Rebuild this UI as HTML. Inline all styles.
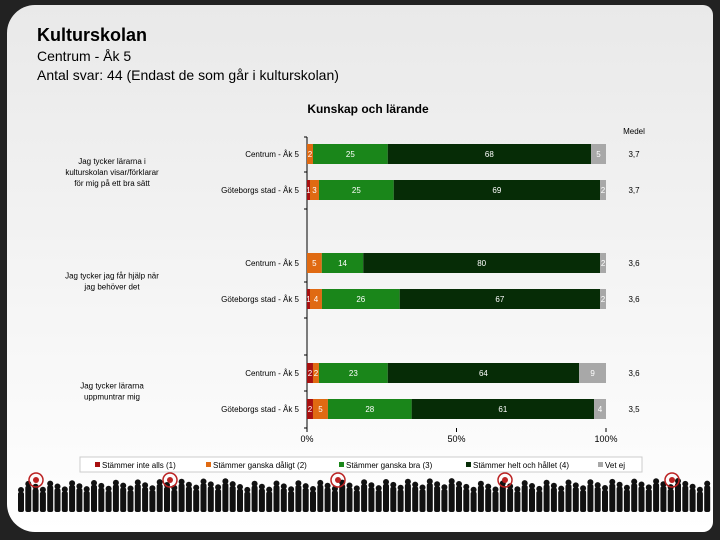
<!DOCTYPE html>
<html><head><meta charset="utf-8">
<style>
body{margin:0;width:720px;height:540px;background:#222;font-family:"Liberation Sans",sans-serif;overflow:hidden}
#panel{position:absolute;left:7px;top:5px;width:706px;height:527px;border-radius:28px 10px 10px 28px;background:linear-gradient(#e9e9e9,#f6f6f6 60%,#fff);overflow:hidden}
.t{position:absolute;color:#000}
</style></head><body>
<div id="panel"></div>
<div class="t" style="left:37px;top:25px;font-size:18px;font-weight:bold">Kulturskolan</div>
<div class="t" style="left:37px;top:48px;font-size:14px">Centrum - Åk 5</div>
<div class="t" style="left:37px;top:67px;font-size:14px">Antal svar: 44 (Endast de som går i kulturskolan)</div>
<svg id="chart" width="720" height="540" style="position:absolute;left:0;top:0" font-family="Liberation Sans, sans-serif"></svg>
<script>
const rowLabels=["Centrum - Åk 5","Göteborgs stad - Åk 5","Centrum - Åk 5","Göteborgs stad - Åk 5","Centrum - Åk 5","Göteborgs stad - Åk 5"];
const s1=[0,1,0,1,2,2];
const s2=[2,3,5,4,2,5];
const s3=[25,25,14,26,23,28];
const s4=[68,69,80,67,64,61];
const s5=[5,2,2,2,9,4];
const medel=["3,7","3,7","3,6","3,6","3,6","3,5"];
const questions=[["Jag tycker lärarna i","kulturskolan visar/förklarar","för mig på ett bra sätt"],["Jag tycker jag får hjälp när","jag behöver det"],["Jag tycker lärarna","uppmuntrar mig"]];
const ticks=[0,50,100];
const legendLabels=["Stämmer inte alls (1)","Stämmer ganska dåligt (2)","Stämmer ganska bra (3)","Stämmer helt och hållet (4)","Vet ej"];
const colors=["#a81010","#e06a12","#1a861a","#062c06","#a8a8a8"];
const svg=document.getElementById('chart');
const NS="http://www.w3.org/2000/svg";
function mk(t,a,p){const e=document.createElementNS(NS,t);for(const k in a)e.setAttribute(k,a[k]);(p||svg).appendChild(e);return e;}
const x0=307,x1=606;
const xs=v=>x0+(x1-x0)*v/100;
const rowY=[154,190,263,299,373,409];
const yc=i=>rowY[i];
let t=mk('text',{x:368,y:113,'font-size':12,'font-weight':'bold','text-anchor':'middle'});t.textContent="Kunskap och lärande";


t=mk('text',{x:634,y:134,'font-size':8,'text-anchor':'middle'});t.textContent="Medel";


let ax=mk('line',{x1:x0,y1:137,x2:x0,y2:428,stroke:'#000','stroke-width':1});


[137,172,209,282,318,355,391,428].forEach(y=>{mk('line',{x1:x0-3,y1:y,x2:x0,y2:y,stroke:'#000'});});
ticks.forEach(v=>{mk('line',{x1:xs(v),y1:428,x2:xs(v),y2:432,stroke:'#000'});
 const tt=mk('text',{x:xs(v),y:442,'font-size':9,'text-anchor':'middle'});tt.textContent=v+"%";
 
 });
const series=[s1,s2,s3,s4,s5];
rowLabels.forEach((lab,i)=>{
 const y=yc(i);
 const l=mk('text',{x:299,y:y+3,'font-size':8,'text-anchor':'end'});l.textContent=lab;
 
 
 const tot=series.reduce((a,s)=>a+s[i],0);
 let c=0;
 series.forEach((s,k)=>{
  const v=s[i];if(v<=0){return;}
  const xa=xs(c/tot*100),xb=xs((c+v)/tot*100);
  const r=mk('rect',{x:xa,y:y-10,width:xb-xa,height:20,fill:colors[k]});
  
  
  const tx=mk('text',{x:(xa+xb)/2,y:y+3,'font-size':8,fill:'#fff','text-anchor':'middle'});tx.textContent=v;
  c+=v;
 });
 const m=mk('text',{x:634,y:y+3,'font-size':8,'text-anchor':'middle'});m.textContent=medel[i];
 
 
});
questions.forEach((q,g)=>{
 const mid=(yc(2*g)+yc(2*g+1))/2;
 q.forEach((line,j)=>{const e=mk('text',{x:112,y:mid-(q.length-1)*5.5+j*11+3,'font-size':8,'text-anchor':'middle'});e.textContent=line;
  
  });
});
const lg=mk('rect',{x:80,y:457,width:562,height:15,fill:'#fff',stroke:'#ccc'});


const lx=[95,206,339,466,598];
legendLabels.forEach((l,k)=>{
 mk('rect',{x:lx[k],y:462,width:5,height:5,fill:colors[k]});
 const e=mk('text',{x:lx[k]+7,y:468,'font-size':8});e.textContent=l;
 
 
});
const g=mk('g',{fill:'#111'});


for(let x=18;x<705;x+=7.3){const h=20+((x*7)%9);mk('rect',{x:x,y:512-h,width:6,height:h,rx:2},g);mk('circle',{cx:x+3,cy:512-h-2,r:3},g);}
[36,170,338,505,672].forEach(x=>{mk('circle',{cx:x,cy:480,r:7,fill:'none',stroke:'#b22','stroke-width':1.5});mk('circle',{cx:x,cy:480,r:3,fill:'#b22'});});
</script>
</body></html>
